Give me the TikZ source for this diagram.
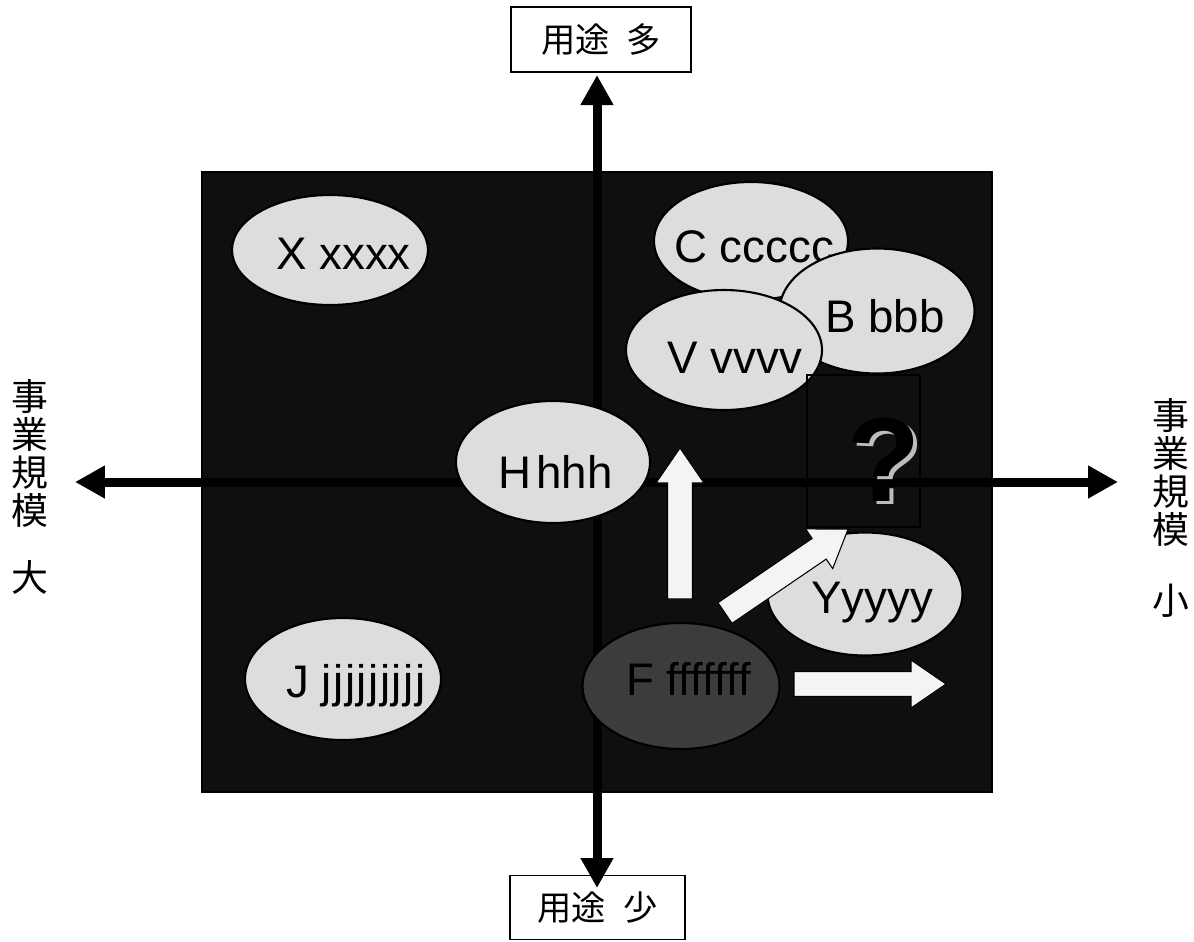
\documentclass[tikz,border=0pt]{standalone}
\usepackage{fontspec}
\setmainfont{Liberation Sans}
\newfontfamily\jpfont{Noto Sans CJK JP}
\usetikzlibrary{arrows.meta,shapes.geometric}
\definecolor{bgdark}{HTML}{0F0F0F}
\definecolor{ellfill}{HTML}{DDDDDD}
\definecolor{fdark}{HTML}{3C3C3C}
\definecolor{arrfill}{HTML}{F4F4F4}
\definecolor{qgray}{HTML}{BDBDBD}
\newcommand\blockarrow[3]{\begin{scope}[shift={#1},rotate=#2]
\draw[barr] (0,12.5) -- ({#3-35},12.5) -- ({#3-35},24) -- (#3,0) -- ({#3-35},-24) -- ({#3-35},-12.5) -- (0,-12.5) -- cycle;
\end{scope}}
\begin{document}
\begin{tikzpicture}[x=0.02cm,y=-0.02cm,
  blob/.style={ellipse, draw=black, line width=1.2pt, fill=ellfill, inner sep=0},
  esize/.style 2 args={minimum width=#1*0.02cm, minimum height=#2*0.02cm},
  lbl/.style={font=\fontsize{26}{30}\selectfont, inner sep=0, anchor=base west, text=black},
  axis/.style={line width=0.18cm, -{Triangle[length=0.6cm,width=0.62cm]}},
  tagbox/.style={draw=black, line width=1.1pt, fill=white, font=\jpfont\fontsize{19.5}{22}\selectfont, inner sep=0},
  sidelbl/.style={font=\jpfont\fontsize{21}{21.6}\selectfont, align=center, inner sep=0},
  barr/.style={draw=black, line width=0.6pt, fill=arrfill, line join=miter},
  qbox/.style={draw=black, line width=0.9pt, inner sep=0}
]
\useasboundingbox (0,0) rectangle (1194,941);
\node[draw=black, line width=1pt, fill=bgdark, inner sep=0, esize={790}{620}] (field) at (597,482) {};

% axes
\coordinate (o) at (597,482);
\coordinate (ytop) at (597,75);
\coordinate (ybot) at (597,888);
\coordinate (xleft) at (75,482);
\coordinate (xright) at (1118,482);
\node[tagbox, esize={180}{65}] (many) at (601,39.5) {用途\hspace{0.5em}多};
\node[tagbox, esize={175}{64}] (few) at (597.5,907.5) {用途\hspace{0.5em}少};
\draw[axis] (o) -- (ytop);
\draw[axis] (o) -- (ybot);
\draw[axis] (o) -- (xleft);
\draw[axis] (o) -- (xright);
\node[sidelbl] (large) at (30,487) {事\\業\\規\\模\\[16.5pt]大};
\node[sidelbl] (small) at (1171,508) {事\\業\\規\\模\\[18.5pt]小};

% ellipses
\node[blob, esize={196}{110}] (x) at (330,250) {};
\node[lbl] (xt) at (276,269) {X xxxx};
\node[blob, esize={194}{118}] (c) at (751,241) {};
\node[lbl] (ct) at (674,262) {C ccccc};
\node[blob, esize={195}{125}] (b) at (877,311) {};
\node[lbl] (bt) at (825,332) {B bbb};
\node[blob, esize={196}{120}] (v) at (724,350) {};
\node[lbl] (vt) at (667,373) {V vvvv};
\node[blob, esize={194}{122}] (h) at (553,462) {};
\node[lbl] (ht) at (498,488) {H\kern3pt hhh};

% question box
\node[qbox, esize={113}{152}] (q) at (863.5,451) {};
\node[font=\bfseries\fontsize{68}{80}\selectfont, text=black, inner sep=0] (qm) at (884,461)
  {\makebox[0pt][l]{\kern2.3pt\raisebox{-1.7pt}{\textcolor{qgray}{?}}}?};

\node[blob, esize={195}{123}] (y) at (865,594) {};
\node[lbl] (yt) at (811,613) {Yyyyy};

% block arrows
\blockarrow{(680,599)}{90}{151}
\blockarrow{(725,613)}{34.3}{149}

\node[blob, fill=fdark, esize={197}{126}] (f) at (681,686) {};
\node[lbl] (ft) at (626,695) {F fffffff};
\blockarrow{(794,684)}{0}{152}

\node[blob, esize={196}{122}] (j) at (343,679) {};
\node[lbl] (jt) at (286,697) {J {\addfontfeatures{LetterSpace=3.3}jjjjjjjjj}};
\end{tikzpicture}
\end{document}
